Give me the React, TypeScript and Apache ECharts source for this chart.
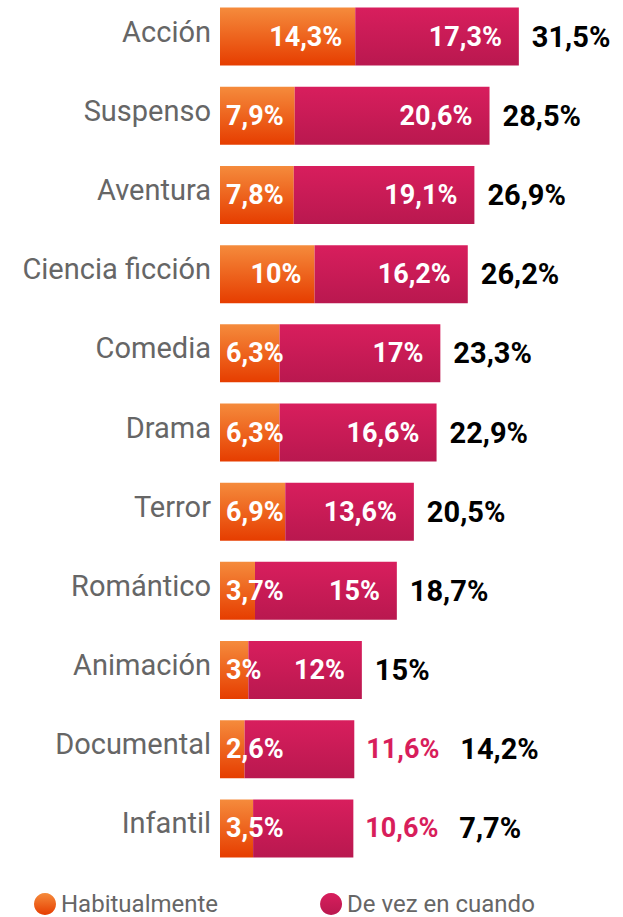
import React, { useEffect, useRef } from "react";
import * as echarts from "echarts";

const categories = [
  "Acción",
  "Suspenso",
  "Aventura",
  "Ciencia ficción",
  "Comedia",
  "Drama",
  "Terror",
  "Romántico",
  "Animación",
  "Documental",
  "Infantil",
];
const habitualmente = [14.3, 7.9, 7.8, 10, 6.3, 6.3, 6.9, 3.7, 3, 2.6, 3.5];
const deVezEnCuando = [17.3, 20.6, 19.1, 16.2, 17, 16.6, 13.6, 15, 12, 11.6, 10.6];
const totalLabels = ["31,5%", "28,5%", "26,9%", "26,2%", "23,3%", "22,9%", "20,5%", "18,7%", "15%", "14,2%", "7,7%"];
const magentaOutside = ["Documental", "Infantil"];

const fmt = (v: number) => String(v).replace(".", ",") + "%";

const MAGENTA = "#D81E5B";
const PX_PER_UNIT = 9.46;

export default function App() {
  const ref = useRef<HTMLDivElement>(null);
  useEffect(() => {
    if (!ref.current) return;
    const chart = echarts.init(ref.current, null, { renderer: "svg" });
    const font = "Roboto, 'Noto Sans', sans-serif";
    const orangeGrad = new echarts.graphic.LinearGradient(0, 0, 0, 1, [
      { offset: 0, color: "#F58B3C" },
      { offset: 1, color: "#E63D00" },
    ]);
    const magentaGrad = new echarts.graphic.LinearGradient(0, 0, 0, 1, [
      { offset: 0, color: "#D81E5D" },
      { offset: 1, color: "#B9184F" },
    ]);
    const labelWidth = (s: string) => s.length * 15;

    const orangeData = habitualmente.map((v) => {
      const txt = fmt(v);
      const fits = v * PX_PER_UNIT > labelWidth(txt) + 30;
      return {
        value: v,
        label: fits
          ? { position: "insideRight", distance: 13 }
          : { position: "insideLeft", distance: 6 },
      };
    });
    const magentaData = deVezEnCuando.map((v, i) => {
      const outside = magentaOutside.includes(categories[i]);
      return {
        value: v,
        label: outside
          ? { position: "right", distance: 12, color: MAGENTA }
          : { position: "insideRight", distance: 17, color: "#fff" },
      };
    });
    const totalData = categories.map((c) => ({
      value: 0,
      label: { distance: magentaOutside.includes(c) ? 106 : 13 },
    }));

    chart.setOption({
      animation: false,
      grid: { left: 220, right: 72, top: 0, bottom: 49 },
      xAxis: {
        type: "value",
        min: 0,
        max: 35,
        show: false,
      },
      yAxis: {
        type: "category",
        data: categories,
        inverse: true,
        axisLine: { show: false },
        axisTick: { show: false },
        axisLabel: {
          margin: 9,
          color: "#666",
          fontFamily: font,
          fontSize: 29,
          verticalAlign: "bottom",
          lineHeight: 10,
        },
      },
      legend: {
        data: ["Habitualmente", "De vez en cuando"],
        left: 29,
        top: 890,
        icon: "circle",
        itemWidth: 22,
        itemHeight: 22,
        itemGap: 102,
        itemTextGap: 12,
        textStyle: { color: "#666", fontFamily: font, fontSize: 24 },
      },
      series: [
        {
          name: "Habitualmente",
          type: "bar",
          stack: "t",
          stackStrategy: "all",
          barWidth: 58,
          itemStyle: { color: orangeGrad },
          data: orangeData,
          label: {
            show: true,
            formatter: (p: any) => fmt(p.value),
            color: "#fff",
            fontFamily: font,
            fontWeight: "bold",
            fontSize: 27,
          },
        },
        {
          name: "De vez en cuando",
          type: "bar",
          stack: "t",
          stackStrategy: "all",
          barWidth: 58,
          itemStyle: { color: magentaGrad },
          data: magentaData,
          label: {
            show: true,
            formatter: (p: any) => fmt(p.value),
            fontFamily: font,
            fontWeight: "bold",
            fontSize: 27,
          },
        },
        {
          name: "Total",
          type: "bar",
          stack: "t",
          stackStrategy: "all",
          barWidth: 58,
          itemStyle: { color: "transparent" },
          data: totalData,
          label: {
            show: true,
            position: "right",
            formatter: (p: any) => totalLabels[p.dataIndex],
            color: "#000",
            fontFamily: font,
            fontWeight: "bold",
            fontSize: 29,
          },
        },
      ],
    });
    return () => chart.dispose();
  }, []);
  return <div ref={ref} style={{ width: 623, height: 920, position: "absolute", left: 0, top: -3 }} />;
}
